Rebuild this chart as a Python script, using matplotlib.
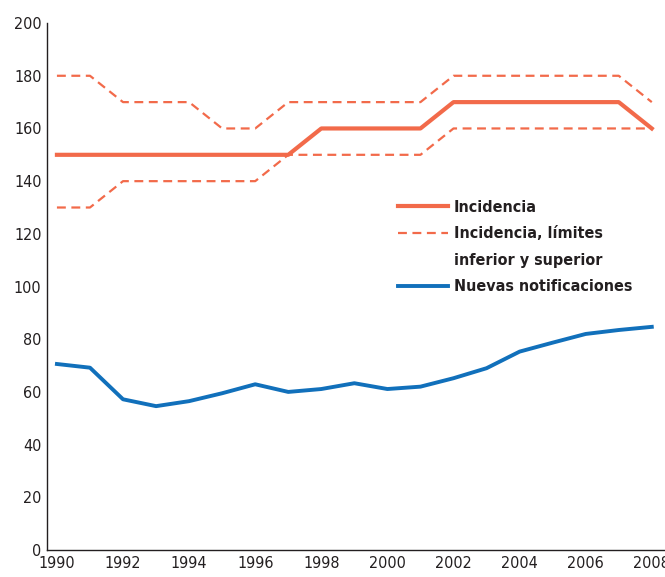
import matplotlib.pyplot as plt
from matplotlib.lines import Line2D

plt.rcParams['font.family'] = ['DejaVu Sans']
plt.rcParams['font.stretch'] = 'condensed'

years = list(range(1990, 2009))
incidencia = [150, 150, 150, 150, 150, 150, 150, 150, 160, 160, 160, 160,
              170, 170, 170, 170, 170, 170, 160]
inc_sup = [180, 180, 170, 170, 170, 160, 160, 170, 170, 170, 170, 170,
           180, 180, 180, 180, 180, 180, 170]
inc_inf = [130, 130, 140, 140, 140, 140, 140, 150, 150, 150, 150, 150,
           160, 160, 160, 160, 160, 160, 160]
notificaciones = [70.6, 69.2, 57.2, 54.6, 56.5, 59.5, 62.9, 60.0, 61.1, 63.3,
                  61.1, 62.0, 65.2, 69.0, 75.3, 78.7, 82.0, 83.5, 84.7]

red = '#f26a4a'
blue = '#1170bb'

fig = plt.figure(figsize=(6.65, 5.77), dpi=100)
ax = fig.add_axes([0.0707, 0.0468, 0.9293, 0.9132])

ax.plot(years, inc_sup, color=red, lw=1.6, ls=(0, (4, 2.5)))
ax.plot(years, inc_inf, color=red, lw=1.6, ls=(0, (4, 2.5)))
ax.plot(years, incidencia, color=red, lw=3)
ax.plot(years, notificaciones, color=blue, lw=2.8)

ax.set_xlim(1989.7, 2008.4)
ax.set_ylim(0, 200)
ax.set_xticks(range(1990, 2009, 2))
ax.set_yticks(range(0, 201, 20))
ax.tick_params(length=0, labelsize=11.5, colors='#231f20', pad=4)
for s in ['top', 'right']:
    ax.spines[s].set_visible(False)
for s in ['left', 'bottom']:
    ax.spines[s].set_color('#231f20')
    ax.spines[s].set_linewidth(1.0)

handles = [Line2D([], [], color=red, lw=3),
           Line2D([], [], color=red, lw=1.6, ls=(0, (4, 2.5))),
           Line2D([], [], color='none'),
           Line2D([], [], color=blue, lw=2.8)]
labels = ['Incidencia', 'Incidencia, límites', 'inferior y superior',
          'Nuevas notificaciones']
leg = ax.legend(handles, labels, loc='upper left', bbox_to_anchor=(0.545, 0.692),
                frameon=False, handlelength=3.1, handletextpad=0.4,
                labelspacing=0.72, prop={'weight': 'bold', 'size': 11.5})
for t in leg.get_texts():
    t.set_color('#231f20')

fig.savefig('out.png', dpi=100)
